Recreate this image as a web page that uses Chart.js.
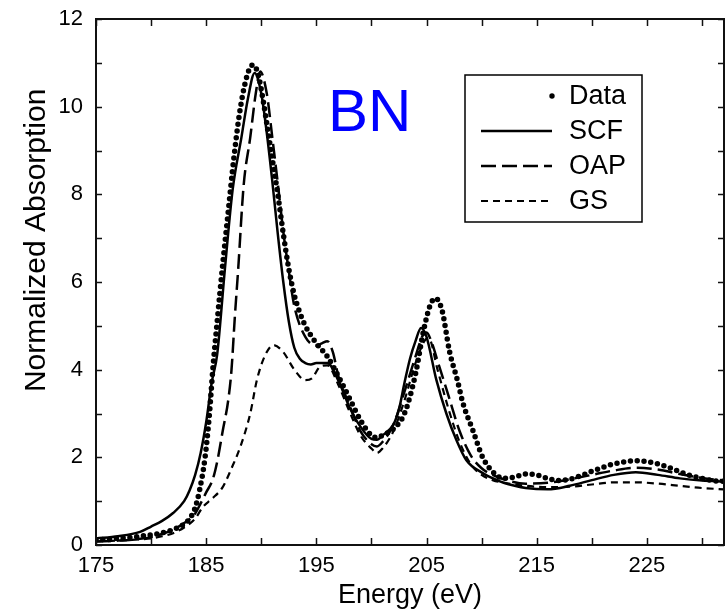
<!DOCTYPE html>
<html><head><meta charset="utf-8">
<script src="https://cdn.jsdelivr.net/npm/chart.js@4/dist/chart.umd.min.js"></script>
<style>html,body{margin:0;padding:0;background:#fff;}#wrap{width:727px;height:609px;position:relative;}</style>
</head><body><div id="wrap"><canvas id="c" width="727" height="609"></canvas></div>
<script>
// ---- axis ticks ----
const xTickLabels = [175, 185, 195, 205, 215, 225];
const xMinorTicks = [175, 180, 185, 190, 195, 200, 205, 210, 215, 220, 225, 230];
const yTickLabels = [0, 2, 4, 6, 8, 10, 12];
const yMinorTicks = [0, 1, 2, 3, 4, 5, 6, 7, 8, 9, 10, 11, 12];
const seriesNames = ['Data', 'SCF', 'OAP', 'GS'];
const annotationText = 'BN';
const xTitle = 'Energy (eV)';
const yTitle = 'Normalized Absorption';

// ---- Data (dots) ----
const dataE = [175,176,177,178,179,180,181,182,183,183.5,184,184.4,184.9,185.3,185.6,186,186.5,187,187.5,188,188.5,189,189.3,189.7,190.2,190.6,191,191.5,192,192.5,193,193.5,194,195,196,197,198,199,200,200.5,201,202,203,204,204.7,205.3,205.8,206.4,207.1,207.8,208.3,209.2,210.1,211.4,212,213,214,215,216,217,218,219,220,221,222,223,224,225,226,227,228,229,230,231,232];
const dataA = [0.12,0.13,0.15,0.17,0.2,0.23,0.28,0.35,0.48,0.6,0.85,1.25,2.0,3.0,4.0,5.1,6.4,7.6,8.8,9.8,10.5,10.9,10.95,10.75,10.1,9.45,8.8,8.0,7.1,6.3,5.7,5.3,5.0,4.6,4.3,3.85,3.35,2.85,2.5,2.45,2.5,2.65,3.0,3.9,4.85,5.45,5.63,5.36,4.4,3.76,3.24,2.62,2.0,1.58,1.52,1.55,1.62,1.6,1.52,1.47,1.5,1.58,1.68,1.77,1.85,1.9,1.92,1.9,1.85,1.77,1.67,1.58,1.52,1.47,1.45];

// ---- SCF (solid) ----
const scfE = [175,177,179,180,181,182,183,183.5,184,184.5,185,185.5,186,186.7,187.4,188.2,188.8,189.4,190,190.5,191,191.5,192,192.5,193,193.5,194,194.5,195,196,197,198,199,200,200.5,201,202,202.5,203,203.5,204,204.5,205,205.9,206.8,207.7,208.6,210.1,211.4,212,213,214,216,218,220,222,224,226,228,230,232];
const scfA = [0.15,0.2,0.3,0.42,0.55,0.73,1.0,1.25,1.6,2.1,2.8,3.7,4.35,6.3,8.1,9.3,10.2,10.77,10.3,9.4,8.3,7.1,6.0,5.1,4.5,4.25,4.15,4.12,4.15,4.15,3.75,3.15,2.7,2.42,2.4,2.5,2.75,3.1,3.7,4.25,4.65,4.95,4.75,3.76,3.0,2.4,1.94,1.64,1.48,1.42,1.35,1.3,1.27,1.35,1.48,1.6,1.66,1.6,1.52,1.47,1.45];

// ---- OAP (long dashes) ----
const oapE = [175,177,179,180,181,182,183,184,184.5,185,185.6,186,186.5,187,187.3,187.6,187.9,188.4,189,189.5,189.9,190.5,191,191.5,192,192.5,193,194,195,195.5,196,196.5,197,198,199,200,200.5,201,202,203,204,204.6,205,205.5,206,207,208,209,210,211,212,214,216,218,220,222,224,226,228,230,232];
const oapA = [0.08,0.1,0.14,0.18,0.25,0.35,0.5,0.72,0.95,1.2,1.5,1.9,2.6,3.3,4.0,5.2,6.27,8.2,9.3,10.3,10.8,10.3,9.3,8.25,7.15,6.25,5.45,4.75,4.55,4.6,4.65,4.4,3.85,3.2,2.6,2.3,2.25,2.35,2.75,3.5,4.3,4.75,4.85,4.6,4.2,3.4,2.6,2.05,1.75,1.6,1.5,1.4,1.42,1.5,1.6,1.7,1.76,1.72,1.62,1.53,1.47];

// ---- GS (short dashes) ----
const gsE = [175,177,179,180,181,182,183,184,184.7,185.5,186.5,187.3,188.1,189,189.6,190.3,191.1,192,193,194,194.6,195.3,196,197,198,199,200,200.5,201,202,203,204,204.8,205.2,206,207,208,209,210,211,212,214,216,218,220,222,224,226,228,230,232];
const gsA = [0.08,0.1,0.13,0.15,0.2,0.27,0.4,0.6,0.87,1.05,1.32,1.75,2.24,3.0,3.76,4.3,4.56,4.4,4.0,3.76,3.8,4.06,4.1,3.65,3.05,2.5,2.2,2.1,2.2,2.6,3.3,4.15,4.65,4.72,4.0,3.1,2.35,1.85,1.6,1.48,1.42,1.35,1.32,1.33,1.38,1.43,1.43,1.4,1.35,1.3,1.27];

const FONT = "'Liberation Sans', Arial, Helvetica, sans-serif";
const pts = (xs, ys) => xs.map((x, i) => ({x: x, y: ys[i]}));

const framePlugin = {
  id: 'frame',
  afterDatasetsDraw(chart) {
    const {ctx, chartArea: a, scales: {x, y}} = chart;
    ctx.save();
    ctx.strokeStyle = '#111';
    ctx.lineWidth = 1.5;
    ctx.beginPath();
    xMinorTicks.forEach(v => {
      const px = Math.round(x.getPixelForValue(v)) + 0.5;
      ctx.moveTo(px, a.bottom); ctx.lineTo(px, a.bottom - 7);
      ctx.moveTo(px, a.top); ctx.lineTo(px, a.top + 7);
    });
    yMinorTicks.forEach(v => {
      const py = Math.round(y.getPixelForValue(v)) + 0.5;
      ctx.moveTo(a.left, py); ctx.lineTo(a.left + 6, py);
      ctx.moveTo(a.right, py); ctx.lineTo(a.right - 6, py);
    });
    ctx.stroke();
    ctx.lineWidth = 2;
    ctx.strokeRect(a.left, a.top, a.right - a.left, a.bottom - a.top);

    // annotation
    ctx.fillStyle = '#0000ff';
    ctx.font = '60px ' + FONT;
    ctx.textBaseline = 'alphabetic';
    ctx.textAlign = 'left';
    ctx.fillText(annotationText, a.left + 232, a.top + 112);

    // y axis title (centred above the middle, as in the original)
    ctx.save();
    ctx.translate(37, y.getPixelForValue(6.95));
    ctx.rotate(-Math.PI / 2);
    ctx.fillStyle = '#000';
    ctx.font = '30px ' + FONT;
    ctx.textAlign = 'center';
    ctx.textBaseline = 'middle';
    ctx.fillText(yTitle, 0, 0);
    ctx.restore();

    // legend box
    const bx = a.left + 369, by = a.top + 56, bw = 177, bh = 147;
    ctx.fillStyle = '#fff';
    ctx.fillRect(bx, by, bw, bh);
    ctx.strokeStyle = '#000';
    ctx.lineWidth = 1.5;
    ctx.strokeRect(bx, by, bw, bh);
    const rowY = [by + 21, by + 56, by + 91, by + 126];
    ctx.textAlign = 'left';
    chart.data.datasets.forEach((ds, i) => {
      const yy = rowY[i];
      ctx.save();
      if (i === 0) {
        ctx.fillStyle = '#000';
        ctx.beginPath(); ctx.arc(bx + 87, yy, 2.7, 0, Math.PI * 2); ctx.fill();
      } else {
        ctx.strokeStyle = '#000';
        ctx.lineWidth = ds.borderWidth;
        ctx.setLineDash(ds.borderDash || []);
        ctx.beginPath(); ctx.moveTo(bx + 16, yy); ctx.lineTo(bx + 87, yy); ctx.stroke();
      }
      ctx.restore();
      ctx.fillStyle = '#000';
      ctx.font = '27px ' + FONT;
      ctx.textBaseline = 'middle';
      ctx.fillText(ds.label, bx + 104, yy + 1);
    });
    ctx.restore();
  }
};

new Chart(document.getElementById('c'), {
  type: 'line',
  data: {
    datasets: [
      {label: seriesNames[0], data: pts(dataE, dataA), borderColor: '#000', borderWidth: 5.5, borderDash: [0, 6.8], borderCapStyle: 'round', pointRadius: 0, cubicInterpolationMode: 'monotone', fill: false},
      {label: seriesNames[1], data: pts(scfE, scfA), borderColor: '#000', borderWidth: 2.5, borderDash: [], pointRadius: 0, cubicInterpolationMode: 'monotone', fill: false},
      {label: seriesNames[2], data: pts(oapE, oapA), borderColor: '#000', borderWidth: 2.5, borderDash: [15, 6], pointRadius: 0, cubicInterpolationMode: 'monotone', fill: false},
      {label: seriesNames[3], data: pts(gsE, gsA), borderColor: '#000', borderWidth: 2.2, borderDash: [7, 5], pointRadius: 0, cubicInterpolationMode: 'monotone', fill: false}
    ]
  },
  options: {
    responsive: false,
    animation: false,
    devicePixelRatio: 1,
    layout: {padding: {left: 0, top: 19, right: 3, bottom: 0}},
    plugins: {legend: {display: false}, tooltip: {enabled: false}},
    scales: {
      x: {
        type: 'linear', min: 175, max: 232,
        afterBuildTicks: s => { s.ticks = xTickLabels.map(v => ({value: v})); },
        afterFit: s => { s.height = 64; s.paddingLeft = 0; s.paddingRight = 0; },
        grid: {display: false, drawTicks: false},
        border: {display: false},
        ticks: {color: '#000', font: {family: FONT, size: 22}, padding: 8, maxRotation: 0, autoSkip: false},
        title: {display: true, text: xTitle, color: '#000', font: {family: FONT, size: 27}, padding: {top: 0, bottom: -3}}
      },
      y: {
        type: 'linear', min: 0, max: 12,
        afterBuildTicks: s => { s.ticks = yTickLabels.map(v => ({value: v})); },
        afterFit: s => { s.width = 96; s.paddingTop = 0; s.paddingBottom = 0; },
        grid: {display: false, drawTicks: false},
        border: {display: false},
        ticks: {color: '#000', font: {family: FONT, size: 22}, padding: 13, autoSkip: false}
      }
    }
  },
  plugins: [framePlugin]
});
</script></body></html>
